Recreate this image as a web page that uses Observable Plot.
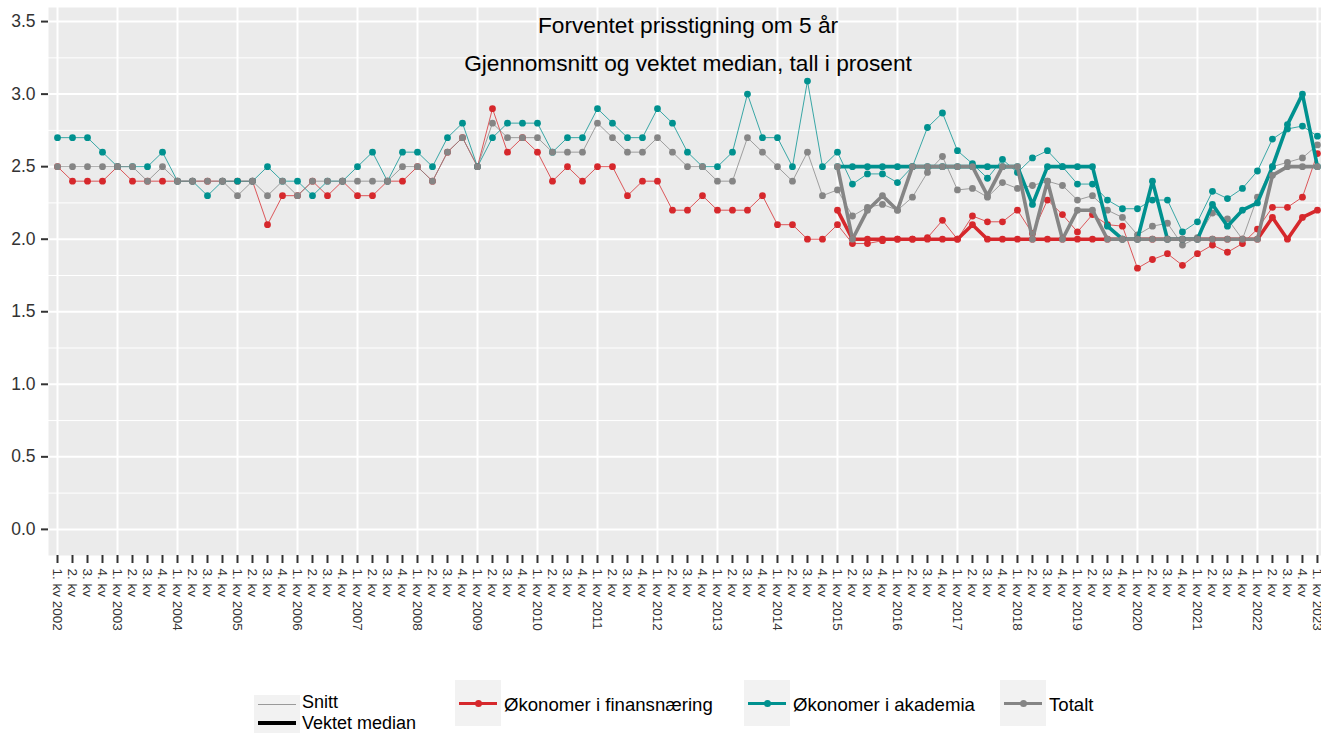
<!DOCTYPE html>
<html>
<head>
<meta charset="utf-8">
<script src="https://cdn.jsdelivr.net/npm/d3@7"></script>
<script src="https://cdn.jsdelivr.net/npm/@observablehq/plot@0.6"></script>
<style>
  body { margin: 0; background: #fff; font-family: "Liberation Sans", Arial, sans-serif; }
  #wrap { position: relative; width: 1321px; height: 733px; overflow: hidden; }
  #chart { position: absolute; left: 0; top: 0; }
  .key { position: absolute; background: #F2F2F2; }
  .lbl { position: absolute; font-size: 18.6px; line-height: 18px; height: 18px; color: #000; white-space: nowrap; }
  .lbl2 { position: absolute; font-size: 18px; line-height: 20.2px; height: 20.2px; color: #000; white-space: nowrap; }
  .ln { position: absolute; }
  .dt { position: absolute; width: 7px; height: 7px; border-radius: 50%; }
</style>
</head>
<body>
<div id="wrap">
  <div id="chart"></div>
  <div id="legend"></div>
</div>
<script>
const quarters = [
  "1. kv 2002","2. kv","3. kv","4. kv",
  "1. kv 2003","2. kv","3. kv","4. kv",
  "1. kv 2004","2. kv","3. kv","4. kv",
  "1. kv 2005","2. kv","3. kv","4. kv",
  "1. kv 2006","2. kv","3. kv","4. kv",
  "1. kv 2007","2. kv","3. kv","4. kv",
  "1. kv 2008","2. kv","3. kv","4. kv",
  "1. kv 2009","2. kv","3. kv","4. kv",
  "1. kv 2010","2. kv","3. kv","4. kv",
  "1. kv 2011","2. kv","3. kv","4. kv",
  "1. kv 2012","2. kv","3. kv","4. kv",
  "1. kv 2013","2. kv","3. kv","4. kv",
  "1. kv 2014","2. kv","3. kv","4. kv",
  "1. kv 2015","2. kv","3. kv","4. kv",
  "1. kv 2016","2. kv","3. kv","4. kv",
  "1. kv 2017","2. kv","3. kv","4. kv",
  "1. kv 2018","2. kv","3. kv","4. kv",
  "1. kv 2019","2. kv","3. kv","4. kv",
  "1. kv 2020","2. kv","3. kv","4. kv",
  "1. kv 2021","2. kv","3. kv","4. kv",
  "1. kv 2022","2. kv","3. kv","4. kv",
  "1. kv 2023"
];

const seriesNames = ["Økonomer i finansnæring", "Økonomer i akademia", "Totalt"];
const seriesColors = ["#d6282c", "#00918f", "#858585"];

// Gjennomsnitt (snitt), 1. kv 2002 – 1. kv 2023
const finansSnitt = [
  2.5, 2.4, 2.4, 2.4,
  2.5, 2.4, 2.4, 2.4,
  2.4, 2.4, 2.4, 2.4,
  2.4, 2.4, 2.1, 2.3,
  2.3, 2.4, 2.3, 2.4,
  2.3, 2.3, 2.4, 2.4,
  2.5, 2.4, 2.6, 2.7,
  2.5, 2.9, 2.6, 2.7,
  2.6, 2.4, 2.5, 2.4,
  2.5, 2.5, 2.3, 2.4,
  2.4, 2.2, 2.2, 2.3,
  2.2, 2.2, 2.2, 2.3,
  2.1, 2.1, 2.0, 2.0,
  2.1, 1.97, 1.97, 1.99,
  2.0, 2.0, 2.01, 2.13,
  2.0, 2.16, 2.12, 2.12,
  2.2, 2.04, 2.27, 2.17,
  2.05, 2.17, 2.1, 2.09,
  1.8, 1.86, 1.9, 1.82,
  1.9, 1.96, 1.91, 1.97,
  2.07, 2.22, 2.22, 2.29,
  2.59
];
const akademiaSnitt = [
  2.7, 2.7, 2.7, 2.6,
  2.5, 2.5, 2.5, 2.6,
  2.4, 2.4, 2.3, 2.4,
  2.4, 2.4, 2.5, 2.4,
  2.4, 2.3, 2.4, 2.4,
  2.5, 2.6, 2.4, 2.6,
  2.6, 2.5, 2.7, 2.8,
  2.5, 2.7, 2.8, 2.8,
  2.8, 2.6, 2.7, 2.7,
  2.9, 2.8, 2.7, 2.7,
  2.9, 2.8, 2.6, 2.5,
  2.5, 2.6, 3.0, 2.7,
  2.7, 2.5, 3.09, 2.5,
  2.6, 2.38, 2.45, 2.45,
  2.39, 2.5, 2.77, 2.87,
  2.61, 2.52, 2.42, 2.55,
  2.46, 2.56, 2.61, 2.5,
  2.38, 2.38, 2.27, 2.21,
  2.21, 2.27, 2.27, 2.05,
  2.12, 2.33, 2.28, 2.35,
  2.47, 2.69, 2.76, 2.78,
  2.71
];
const totaltSnitt = [
  2.5, 2.5, 2.5, 2.5,
  2.5, 2.5, 2.4, 2.5,
  2.4, 2.4, 2.4, 2.4,
  2.3, 2.4, 2.3, 2.4,
  2.3, 2.4, 2.4, 2.4,
  2.4, 2.4, 2.4, 2.5,
  2.5, 2.4, 2.6, 2.7,
  2.5, 2.8, 2.7, 2.7,
  2.7, 2.6, 2.6, 2.6,
  2.8, 2.7, 2.6, 2.6,
  2.7, 2.6, 2.5, 2.5,
  2.4, 2.4, 2.7, 2.6,
  2.5, 2.4, 2.6, 2.3,
  2.34, 2.16, 2.22, 2.24,
  2.2, 2.29, 2.46, 2.57,
  2.34, 2.35, 2.29, 2.39,
  2.35, 2.37, 2.4, 2.37,
  2.27, 2.3, 2.2, 2.15,
  2.03, 2.09, 2.11, 1.96,
  2.01, 2.18, 2.14, 2.0,
  2.29, 2.5, 2.53, 2.56,
  2.65
];

// Vektet median, 1. kv 2015 – 1. kv 2023
const medianStartLabel = "1. kv 2015";
const finansMedian = [
  2.2, 2.0, 2.0, 2.0,
  2.0, 2.0, 2.0, 2.0,
  2.0, 2.1, 2.0, 2.0,
  2.0, 2.0, 2.0, 2.0,
  2.0, 2.0, 2.0, 2.0,
  2.0, 2.0, 2.0, 2.0,
  2.0, 2.0, 2.0, 2.0,
  2.0, 2.15, 2.0, 2.15,
  2.2
];
const akademiaMedian = [
  2.5, 2.5, 2.5, 2.5,
  2.5, 2.5, 2.5, 2.5,
  2.5, 2.5, 2.5, 2.5,
  2.5, 2.24, 2.5, 2.5,
  2.5, 2.5, 2.09, 2.0,
  2.0, 2.4, 2.0, 2.0,
  2.0, 2.24, 2.09, 2.2,
  2.25, 2.5, 2.79, 3.0,
  2.5
];
const totaltMedian = [
  2.5, 2.0, 2.2, 2.3,
  2.2, 2.5, 2.5, 2.5,
  2.5, 2.5, 2.3, 2.5,
  2.5, 2.0, 2.4, 2.0,
  2.2, 2.2, 2.0, 2.0,
  2.0, 2.0, 2.0, 2.0,
  2.0, 2.0, 2.0, 2.0,
  2.0, 2.44, 2.5, 2.5,
  2.5
];

const yTicks = [0, 0.5, 1, 1.5, 2, 2.5, 3, 3.5];
const yMinorTicks = [0.25, 0.75, 1.25, 1.75, 2.25, 2.75, 3.25];
const titleLines = ["Forventet prisstigning om 5 år", "Gjennomsnitt og vektet median, tall i prosent"];
const legendLineLabels = ["Snitt", "Vektet median"];

const snittArrays = [finansSnitt, akademiaSnitt, totaltSnitt];
const medianArrays = [finansMedian, akademiaMedian, totaltMedian];
const medianStart = quarters.indexOf(medianStartLabel);

const rowsSnitt = seriesNames.flatMap((s, k) => snittArrays[k].map((v, i) => ({serie: s, i, v})));
const rowsMedian = seriesNames.flatMap((s, k) => medianArrays[k].map((v, j) => ({serie: s, i: medianStart + j, v})));
const xIdx = quarters.map((_, i) => i);
const yearStarts = xIdx.filter(i => quarters[i].startsWith("1."));

const plot = Plot.plot({
  width: 1321,
  height: 660,
  marginTop: 7,
  marginBottom: 105,
  marginLeft: 48,
  marginRight: 0,
  style: {fontFamily: '"Liberation Sans", Arial, sans-serif', background: "transparent", overflow: "visible"},
  x: {type: "linear", domain: [-0.6, 84.27], axis: null},
  y: {domain: [-0.18, 3.597], axis: null},
  color: {domain: seriesNames, range: seriesColors},
  marks: [
    Plot.frame({fill: "#EBEBEB", stroke: null}),
    Plot.ruleY(yMinorTicks, {stroke: "#fff", strokeWidth: 1}),
    Plot.ruleY(yTicks, {stroke: "#fff", strokeWidth: 2}),
    Plot.ruleX(yearStarts, {stroke: "#fff", strokeWidth: 2}),
    Plot.line(rowsSnitt, {x: "i", y: "v", z: "serie", stroke: "serie", strokeWidth: 0.9, strokeOpacity: 0.85}),
    Plot.dot(rowsSnitt, {x: "i", y: "v", fill: "serie", r: 3.4}),
    Plot.line(rowsMedian, {x: "i", y: "v", z: "serie", stroke: "serie", strokeWidth: 3.6}),
    Plot.dot(rowsMedian, {x: "i", y: "v", fill: "serie", r: 3.4}),
    Plot.axisY({ticks: yTicks, tickFormat: d3.format(".1f"), tickSize: 7, tickPadding: 6, fontSize: 17.5, color: "#333", strokeWidth: 2, label: null}),
    Plot.axisX({ticks: xIdx, tickFormat: i => quarters[i], tickRotate: 90, tickSize: 8, tickPadding: 5, fontSize: 13.5, color: "#333", strokeWidth: 2, label: null}),
    Plot.text([titleLines[0]], {frameAnchor: "top", lineAnchor: "middle", dy: 18, dx: 3, fontSize: 22.7, fill: "#000"}),
    Plot.text([titleLines[1]], {frameAnchor: "top", lineAnchor: "middle", dy: 56, dx: 3, fontSize: 22.7, fill: "#000"})
  ]
});
document.getElementById("chart").appendChild(plot);

// Legend
const lg = document.getElementById("legend");
function add(html) { lg.insertAdjacentHTML("beforeend", html); }
// Linetype legend
add(`<div class="key" style="left:254px;top:695px;width:46px;height:40px"></div>`);
add(`<div class="ln" style="left:258px;top:703.5px;width:38px;height:1px;background:#9a9a9a"></div>`);
add(`<div class="ln" style="left:258px;top:721px;width:38px;height:4px;background:#000"></div>`);
add(`<div class="lbl2" style="left:302px;top:692.4px">${legendLineLabels[0]}</div>`);
add(`<div class="lbl2" style="left:302px;top:712.6px">${legendLineLabels[1]}</div>`);
// Series legend
const keyLefts = [455, 744, 1000];
seriesNames.forEach((s, k) => {
  const L = keyLefts[k];
  add(`<div class="key" style="left:${L}px;top:680px;width:46px;height:46px"></div>`);
  add(`<div class="ln" style="left:${L+4}px;top:702px;width:38px;height:3px;background:${seriesColors[k]}"></div>`);
  add(`<div class="dt" style="left:${L+19.5}px;top:700px;background:${seriesColors[k]}"></div>`);
  add(`<div class="lbl" style="left:${L+49}px;top:696px">${s}</div>`);
});
</script>
</body>
</html>
